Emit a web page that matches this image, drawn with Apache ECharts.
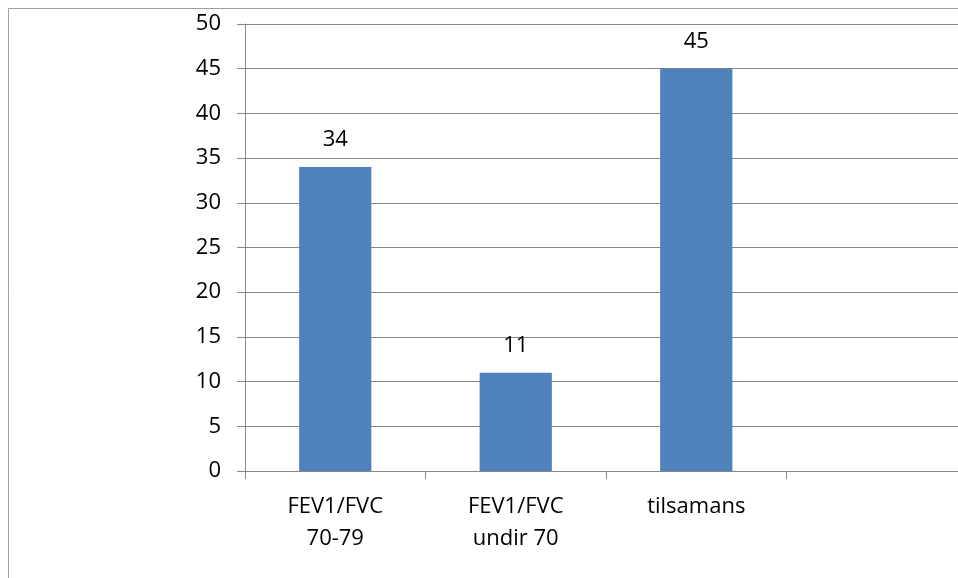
<!DOCTYPE html>
<html>
<head>
<meta charset="utf-8">
<script src="https://cdn.jsdelivr.net/npm/echarts@6/dist/echarts.min.js"></script>
<style>html,body{margin:0;padding:0;background:#fff}#c{width:958px;height:578px}</style>
</head>
<body>
<div id="c"></div>
<script>
var categories = ["FEV1/FVC\n70-79", "FEV1/FVC\nundir 70", "tilsamans", ""];
var values = [34, 11, 45, null];
var yTicks = [0, 5, 10, 15, 20, 25, 30, 35, 40, 45, 50];

var chart = echarts.init(document.getElementById('c'));
var font = "'Open Sans', sans-serif";
chart.setOption({
  animation: false,
  backgroundColor: '#ffffff',
  graphic: [{
    type: 'rect',
    shape: {x: 8.5, y: 8.5, width: 1200, height: 1000},
    style: {fill: 'none', stroke: '#a0a0a0', lineWidth: 1},
    silent: true
  }],
  grid: {left: 245, top: 24, width: 722, bottom: 107, containLabel: false, outerBoundsMode: 'none'},
  xAxis: {
    type: 'category',
    data: categories,
    axisLine: {lineStyle: {color: '#868686', width: 1}},
    axisTick: {show: true, length: 8, alignWithLabel: false, lineStyle: {color: '#868686'}},
    axisLabel: {color: '#000', fontFamily: font, fontSize: 22, lineHeight: 32, margin: 20, interval: 0}
  },
  yAxis: {
    type: 'value',
    min: yTicks[0], max: yTicks[yTicks.length - 1], interval: 5,
    axisLine: {show: true, lineStyle: {color: '#868686', width: 1}},
    axisTick: {show: true, length: 8, lineStyle: {color: '#868686'}},
    splitLine: {lineStyle: {color: '#868686', width: 1}},
    axisLabel: {color: '#000', fontFamily: font, fontSize: 22, margin: 24}
  },
  series: [{
    type: 'bar',
    data: values,
    barWidth: '40%',
    itemStyle: {color: '#4F81BD'},
    label: {show: true, position: 'top', distance: 16, color: '#000', fontFamily: font, fontSize: 22}
  }]
});
</script>
</body>
</html>
